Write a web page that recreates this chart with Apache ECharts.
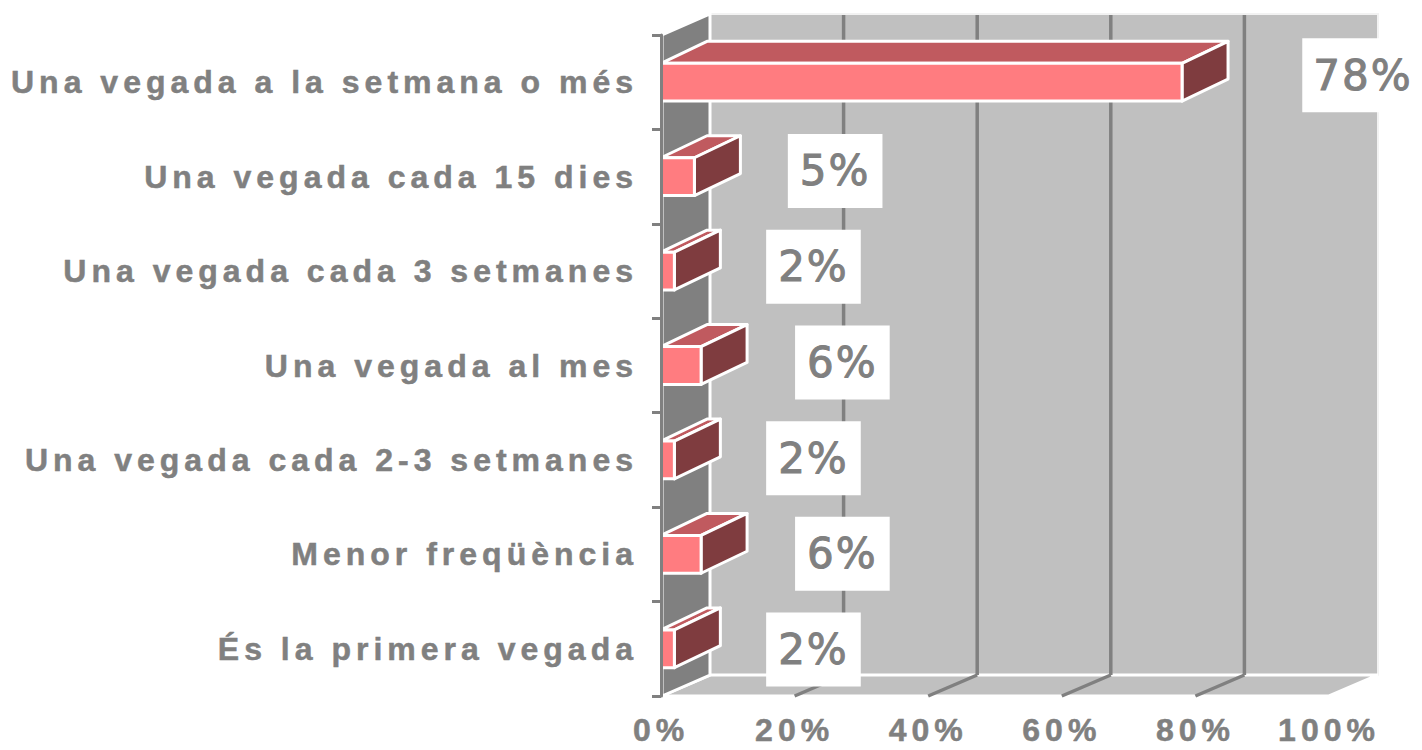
<!DOCTYPE html>
<html>
<head>
<meta charset="utf-8">
<script src="https://cdn.jsdelivr.net/npm/echarts@6/dist/echarts.min.js"></script>
<style>
  html, body { margin: 0; padding: 0; background: #fff; }
  #main { width: 1422px; height: 750px; }
  /* axis labels are widely spaced in the original */
  #main text[style*="Liberation"] { letter-spacing: 5px; }
  #main text[style*="DejaVu"] { letter-spacing: 2px; }
</style>
</head>
<body>
<div id="main"></div>
<script>
// categories, top to bottom
var categories = [
  'Una vegada a la setmana o més',
  'Una vegada cada 15 dies',
  'Una vegada cada 3 setmanes',
  'Una vegada al mes',
  'Una vegada cada 2-3 setmanes',
  'Menor freqüència',
  'És la primera vegada'
]
var values = [78, 5, 2, 6, 2, 6, 2]
var xTicks = [0, 20, 40, 60, 80, 100]

// 3d offsets (oblique projection)
var wallDx = 49, wallDy = -21
var barDx = 46, barDy = -22
var grey = '#808080'

function renderWalls(params, api) {
  var cs = params.coordSys
  var x0 = cs.x, x1 = cs.x + cs.width
  var yT = cs.y, yB = cs.y + cs.height
  var children = []
  // back wall
  children.push({
    type: 'rect',
    shape: { x: x0 + wallDx, y: yT + wallDy, width: x1 - x0, height: yB - yT },
    style: { fill: '#c0c0c0', stroke: '#f2f2f2', lineWidth: 2 }
  })
  // floor
  children.push({
    type: 'polygon',
    shape: { points: [[x0, yB], [x0 + wallDx, yB + wallDy], [x1 + wallDx, yB + wallDy], [x1, yB]] },
    style: { fill: '#c0c0c0', stroke: '#fff', lineWidth: 3 }
  })
  // left wall
  children.push({
    type: 'polygon',
    shape: { points: [[x0 + 1, yT], [x0 + wallDx, yT + wallDy], [x0 + wallDx, yB + wallDy], [x0 + 1, yB]] },
    style: { fill: grey, stroke: '#fff', lineWidth: 3 }
  })
  // gridlines on back wall and floor
  xTicks.slice(1, -1).forEach(function (t) {
    var x = api.coord([t, 0])[0]
    children.push({
      type: 'line',
      shape: { x1: x + wallDx, y1: yT + wallDy + 1, x2: x + wallDx, y2: yB + wallDy },
      style: { stroke: grey, lineWidth: 3.5 }
    })
    children.push({
      type: 'line',
      shape: { x1: x + wallDx, y1: yB + wallDy, x2: x, y2: yB },
      style: { stroke: grey, lineWidth: 3.5 }
    })
  })
  return { type: 'group', children: children }
}

function renderBar(params, api) {
  var v = api.value(0), i = api.value(1)
  var p0 = api.coord([0, i]), p1 = api.coord([v, i])
  var h = api.size([0, 1])[1] * 0.4
  var xa = p0[0], xb = p1[0]
  var yT = p0[1] - h / 2, yB = p0[1] + h / 2
  var edge = { stroke: '#fff', lineWidth: 3, lineJoin: 'round' }
  return {
    type: 'group',
    children: [
      {
        type: 'polygon',
        shape: { points: [[xa, yT], [xa + barDx, yT + barDy], [xb + barDx, yT + barDy], [xb, yT]] },
        style: Object.assign({ fill: '#c05a5f' }, edge)
      },
      {
        type: 'polygon',
        shape: { points: [[xb, yT], [xb + barDx, yT + barDy], [xb + barDx, yB + barDy], [xb, yB]] },
        style: Object.assign({ fill: '#7f3c3f' }, edge)
      },
      {
        type: 'rect',
        shape: { x: xa, y: yT, width: xb - xa, height: h },
        style: Object.assign({ fill: '#ff7c80' }, edge)
      }
    ]
  }
}

function renderLabel(params, api) {
  var v = api.value(0), i = api.value(1)
  var p = api.coord([v, i])
  return {
    type: 'text',
    x: p[0] + 138 + 0.55 * v,
    y: p[1] - 7 + 1.3 * i,
    style: {
      text: v + '%',
      fill: grey,
      fontSize: 42,
      fontFamily: 'DejaVu Sans',
      align: 'center',
      verticalAlign: 'middle',
      stroke: grey,
      lineWidth: 1,
      backgroundColor: '#fff',
      padding: [16, 14]
    }
  }
}

var barData = values.map(function (v, i) { return [v, i] })

var axisFont = {
  color: grey,
  fontSize: 32,
  fontWeight: 'bold',
  fontFamily: 'Liberation Sans',
  textBorderColor: grey,
  textBorderWidth: 0.5
}

var chart = echarts.init(document.getElementById('main'), null, { renderer: 'svg' })
chart.setOption({
  animation: false,
  backgroundColor: '#fff',
  grid: { left: 661, right: 93, top: 35, bottom: 54, containLabel: false },
  xAxis: {
    type: 'value',
    min: 0,
    max: 100,
    interval: 20,
    axisLine: { show: false },
    axisTick: { show: false },
    splitLine: { show: false },
    axisLabel: Object.assign({ formatter: '{value}%', margin: 21, lineHeight: 26 }, axisFont)
  },
  yAxis: {
    type: 'category',
    inverse: true,
    data: categories,
    offset: 2,
    z: 10,
    axisLine: { show: true, lineStyle: { color: grey, width: 3 } },
    axisTick: { show: true, length: 9, lineStyle: { color: grey, width: 3 } },
    axisLabel: Object.assign({ margin: 21 }, axisFont)
  },
  series: [
    {
      type: 'custom',
      renderItem: renderWalls,
      data: [[0, 0]],
      encode: { x: 0, y: 1 },
      silent: true,
      z: 1
    },
    {
      type: 'custom',
      renderItem: renderBar,
      data: barData,
      encode: { x: 0, y: 1 },
      z: 2
    },
    {
      type: 'custom',
      renderItem: renderLabel,
      data: barData,
      encode: { x: 0, y: 1 },
      z: 3
    }
  ]
})
</script>
</body>
</html>
